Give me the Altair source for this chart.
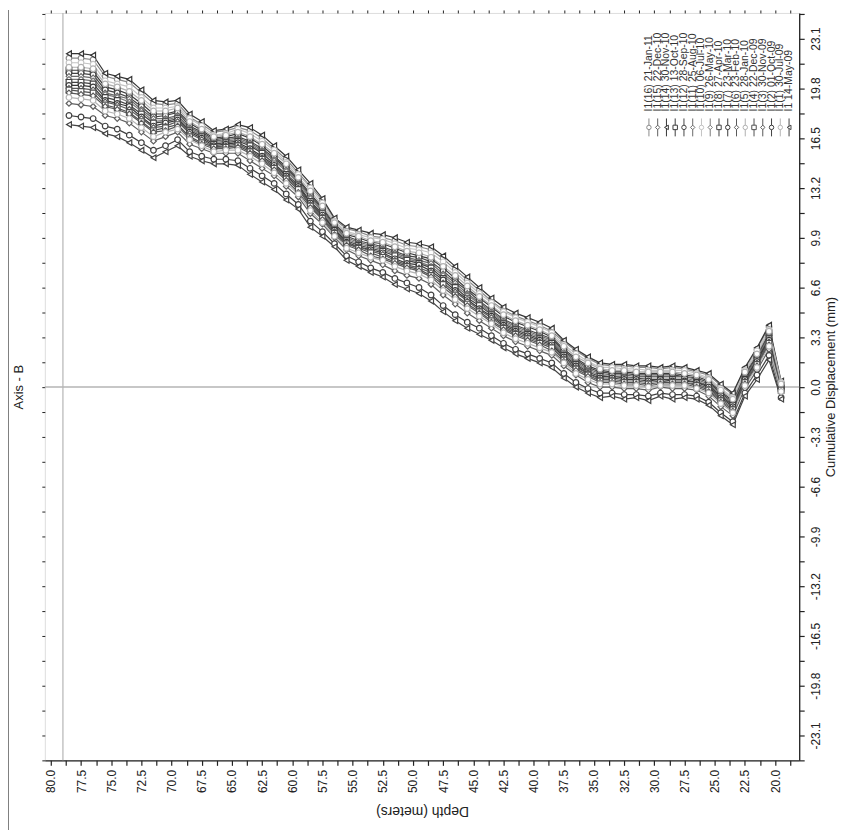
import altair as alt
import pandas as pd

# ---------------- data ----------------
depths = [78.5, 77.5, 76.5, 75.5, 74.5, 73.5, 72.5, 71.5, 70.5, 69.5,
          68.5, 67.5, 66.5, 65.5, 64.5, 63.5, 62.5, 61.5, 60.5, 59.5,
          58.5, 57.5, 56.5, 55.5, 54.5, 53.5, 52.5, 51.5, 50.5, 49.5,
          48.5, 47.5, 46.5, 45.5, 44.5, 43.5, 42.5, 41.5, 40.5, 39.5,
          38.5, 37.5, 36.5, 35.5, 34.5, 33.5, 32.5, 31.5, 30.5, 29.5,
          28.5, 27.5, 26.5, 25.5, 24.5, 23.5, 22.5, 21.5, 20.5, 19.5]

series_names = ["I1(16) 21-Jan-11", "I1(15) 22-Dec-10", "I1(14) 30-Nov-10",
                "I1(13) 13-Oct-10", "I1(12) 28-Sep-10", "I1(11) 25-Aug-10",
                "I1(10) 06-Jul-10", "I1(9) 26-May-10", "I1(8) 27-Apr-10",
                "I1(7) 23-Mar-10", "I1(6) 23-Feb-10", "I1(5) 28-Jan-10",
                "I1(4) 22-Dec-09", "I1(3) 30-Nov-09", "I1(2) 01-Oct-09",
                "I1(1) 30-Jul-09", "I1 14-May-09"]

series_colors = ["#8a8a8a", "#606060", "#353535", "#3c3c3c", "#454545", "#6a6a6a",
                 "#c4c4c4", "#7a7a7a", "#424242", "#383838", "#5a5a5a", "#b0b0b0",
                 "#505050", "#585858", "#404040", "#b4b4b4", "#444444"]

series_shapes = ["circle", "diamond", "triangle-left", "square", "circle", "diamond",
                 "circle", "diamond", "square", "circle", "diamond", "circle",
                 "square", "diamond", "circle", "circle", "triangle-left"]

disp = {
    "I1(14) 30-Nov-10": [22.1, 22.1, 22.0, 20.8, 20.6, 20.4, 19.7, 19.0, 18.9, 19.0,
                         18.1, 17.6, 17.0, 17.1, 17.4, 17.2, 16.7, 16.0, 15.3, 14.4,
                         13.5, 12.5, 11.2, 10.6, 10.4, 10.2, 10.1, 9.9, 9.6, 9.5,
                         9.3, 8.7, 8.0, 7.3, 6.6, 5.9, 5.3, 4.9, 4.6, 4.3,
                         3.9, 3.1, 2.5, 2.0, 1.6, 1.5, 1.5, 1.4, 1.4, 1.3,
                         1.4, 1.3, 1.1, 0.9, 0.2, -0.4, 1.3, 2.6, 4.1, 0.4],
    "I1(16) 21-Jan-11": [21.8, 21.8, 21.7, 20.6, 20.4, 20.2, 19.5, 18.8, 18.7, 18.8,
                         17.9, 17.4, 16.9, 17.0, 17.2, 17.0, 16.5, 15.8, 15.1, 14.2,
                         13.3, 12.4, 11.1, 10.5, 10.3, 10.0, 9.9, 9.7, 9.4, 9.3,
                         9.1, 8.5, 7.8, 7.1, 6.4, 5.7, 5.1, 4.7, 4.4, 4.1,
                         3.7, 3.0, 2.4, 1.9, 1.5, 1.4, 1.4, 1.3, 1.3, 1.2,
                         1.3, 1.2, 1.0, 0.8, 0.1, -0.5, 1.2, 2.5, 4.0, 0.3],
    "I1(10) 06-Jul-10": [21.5, 21.5, 21.4, 20.3, 20.1, 19.9, 19.2, 18.5, 18.5, 18.6,
                         17.8, 17.3, 16.7, 16.8, 17.1, 16.8, 16.3, 15.7, 14.9, 14.1,
                         13.2, 12.2, 11.0, 10.3, 10.1, 9.9, 9.8, 9.5, 9.2, 9.1,
                         8.9, 8.3, 7.6, 6.9, 6.2, 5.6, 5.0, 4.6, 4.3, 4.0,
                         3.6, 2.8, 2.2, 1.7, 1.3, 1.3, 1.2, 1.2, 1.1, 1.1,
                         1.1, 1.1, 0.9, 0.6, -0.1, -0.7, 1.1, 2.4, 3.8, 0.3],
    "I1(5) 28-Jan-10": [21.2, 21.2, 21.1, 20.1, 19.9, 19.6, 19.0, 18.3, 18.3, 18.5,
                        17.6, 17.1, 16.6, 16.7, 16.9, 16.6, 16.1, 15.5, 14.8, 13.9,
                        13.0, 12.0, 10.9, 10.2, 10.0, 9.7, 9.6, 9.3, 9.0, 8.9,
                        8.6, 8.0, 7.4, 6.7, 6.0, 5.4, 4.8, 4.4, 4.1, 3.8,
                        3.4, 2.7, 2.0, 1.6, 1.2, 1.1, 1.1, 1.0, 1.0, 1.0,
                        1.0, 0.9, 0.8, 0.5, -0.2, -0.8, 1.0, 2.2, 3.7, 0.2],
    "I1(13) 13-Oct-10": [21.0, 21.0, 20.9, 19.9, 19.7, 19.4, 18.8, 18.1, 18.1, 18.3,
                         17.5, 17.0, 16.5, 16.6, 16.8, 16.5, 16.0, 15.3, 14.6, 13.8,
                         12.8, 11.9, 10.8, 10.1, 9.9, 9.6, 9.5, 9.2, 8.9, 8.7,
                         8.5, 7.9, 7.2, 6.5, 5.9, 5.3, 4.7, 4.3, 4.0, 3.7,
                         3.3, 2.5, 1.9, 1.4, 1.1, 1.0, 1.0, 0.9, 0.9, 0.9,
                         0.9, 0.8, 0.7, 0.4, -0.3, -0.9, 0.9, 2.1, 3.6, 0.1],
    "I1(12) 28-Sep-10": [20.8, 20.8, 20.7, 19.7, 19.5, 19.2, 18.6, 17.9, 18.0, 18.2,
                         17.3, 16.9, 16.4, 16.5, 16.6, 16.3, 15.8, 15.2, 14.5, 13.7,
                         12.7, 11.8, 10.7, 10.0, 9.7, 9.5, 9.3, 9.0, 8.7, 8.6,
                         8.3, 7.7, 7.0, 6.4, 5.7, 5.1, 4.5, 4.1, 3.8, 3.5,
                         3.2, 2.4, 1.8, 1.3, 1.0, 0.9, 0.9, 0.8, 0.8, 0.8,
                         0.8, 0.7, 0.6, 0.3, -0.4, -1.0, 0.8, 2.0, 3.5, 0.1],
    "I1(11) 25-Aug-10": [20.6, 20.6, 20.5, 19.5, 19.3, 19.1, 18.4, 17.8, 17.8, 18.0,
                         17.2, 16.8, 16.3, 16.4, 16.5, 16.2, 15.7, 15.1, 14.4, 13.6,
                         12.6, 11.7, 10.6, 9.9, 9.6, 9.4, 9.2, 8.9, 8.6, 8.4,
                         8.2, 7.5, 6.9, 6.2, 5.6, 5.0, 4.4, 4.0, 3.7, 3.4,
                         3.1, 2.3, 1.7, 1.2, 0.9, 0.8, 0.8, 0.7, 0.7, 0.7,
                         0.7, 0.7, 0.5, 0.2, -0.5, -1.1, 0.7, 1.9, 3.4, 0.0],
    "I1(9) 26-May-10": [20.4, 20.4, 20.3, 19.4, 19.2, 18.9, 18.3, 17.6, 17.7, 17.9,
                        17.1, 16.7, 16.2, 16.3, 16.4, 16.1, 15.6, 15.0, 14.3, 13.5,
                        12.5, 11.6, 10.5, 9.8, 9.5, 9.3, 9.1, 8.8, 8.5, 8.3,
                        8.0, 7.4, 6.7, 6.1, 5.5, 4.9, 4.3, 3.9, 3.6, 3.3,
                        3.0, 2.2, 1.6, 1.1, 0.8, 0.7, 0.7, 0.6, 0.6, 0.6,
                        0.6, 0.6, 0.4, 0.1, -0.6, -1.2, 0.6, 1.8, 3.3, 0.0],
    "I1(8) 27-Apr-10": [20.2, 20.2, 20.1, 19.2, 19.0, 18.7, 18.1, 17.5, 17.6, 17.8,
                        17.0, 16.6, 16.1, 16.2, 16.3, 16.0, 15.5, 14.8, 14.1, 13.4,
                        12.3, 11.5, 10.4, 9.7, 9.4, 9.2, 9.0, 8.7, 8.4, 8.2,
                        7.9, 7.2, 6.6, 5.9, 5.4, 4.8, 4.2, 3.8, 3.5, 3.2,
                        2.9, 2.1, 1.5, 1.0, 0.7, 0.7, 0.6, 0.6, 0.5, 0.5,
                        0.5, 0.5, 0.3, 0.1, -0.6, -1.2, 0.5, 1.8, 3.2, -0.1],
    "I1(7) 23-Mar-10": [20.0, 20.0, 19.9, 19.0, 18.8, 18.6, 17.9, 17.3, 17.5, 17.7,
                        16.9, 16.5, 16.0, 16.1, 16.2, 15.8, 15.3, 14.7, 14.0, 13.3,
                        12.2, 11.4, 10.4, 9.6, 9.3, 9.1, 8.9, 8.5, 8.2, 8.1,
                        7.7, 7.1, 6.4, 5.8, 5.2, 4.7, 4.1, 3.7, 3.4, 3.1,
                        2.8, 2.0, 1.4, 0.9, 0.6, 0.6, 0.5, 0.5, 0.4, 0.5,
                        0.4, 0.4, 0.3, 0.0, -0.7, -1.3, 0.5, 1.7, 3.1, -0.1],
    "I1(6) 23-Feb-10": [19.8, 19.8, 19.7, 18.9, 18.7, 18.4, 17.8, 17.2, 17.3, 17.6,
                        16.8, 16.4, 15.9, 16.0, 16.1, 15.7, 15.2, 14.6, 13.9, 13.2,
                        12.1, 11.3, 10.3, 9.5, 9.3, 9.0, 8.8, 8.4, 8.1, 7.9,
                        7.6, 6.9, 6.3, 5.7, 5.1, 4.6, 4.0, 3.6, 3.3, 3.0,
                        2.7, 1.9, 1.3, 0.9, 0.5, 0.5, 0.4, 0.4, 0.3, 0.4,
                        0.3, 0.3, 0.2, -0.1, -0.8, -1.4, 0.4, 1.6, 3.0, -0.2],
    "I1(4) 22-Dec-09": [19.7, 19.6, 19.5, 18.7, 18.5, 18.2, 17.6, 17.0, 17.2, 17.4,
                        16.6, 16.2, 15.9, 15.9, 16.0, 15.6, 15.1, 14.5, 13.8, 13.1,
                        12.0, 11.2, 10.2, 9.5, 9.2, 8.9, 8.6, 8.3, 8.0, 7.8,
                        7.4, 6.8, 6.1, 5.5, 5.0, 4.4, 3.9, 3.5, 3.2, 2.9,
                        2.6, 1.8, 1.2, 0.8, 0.4, 0.4, 0.3, 0.3, 0.2, 0.3,
                        0.3, 0.3, 0.1, -0.2, -0.9, -1.5, 0.3, 1.5, 2.9, -0.2],
    "I1(3) 30-Nov-09": [19.5, 19.4, 19.3, 18.6, 18.4, 18.1, 17.5, 16.9, 17.0, 17.3,
                        16.5, 16.1, 15.8, 15.8, 15.9, 15.5, 15.0, 14.4, 13.7, 12.9,
                        11.9, 11.1, 10.1, 9.4, 9.1, 8.7, 8.5, 8.2, 7.9, 7.7,
                        7.3, 6.6, 6.0, 5.4, 4.9, 4.3, 3.8, 3.4, 3.1, 2.8,
                        2.4, 1.7, 1.1, 0.7, 0.3, 0.3, 0.2, 0.2, 0.1, 0.2,
                        0.2, 0.2, 0.0, -0.3, -1.0, -1.6, 0.2, 1.4, 2.8, -0.3],
    "I1(1) 30-Jul-09": [19.2, 19.1, 19.0, 18.3, 18.1, 17.8, 17.2, 16.6, 16.9, 17.1,
                        16.4, 16.0, 15.6, 15.7, 15.7, 15.3, 14.8, 14.2, 13.5, 12.8,
                        11.7, 10.9, 10.0, 9.2, 8.9, 8.6, 8.4, 8.0, 7.7, 7.5,
                        7.1, 6.4, 5.8, 5.2, 4.7, 4.2, 3.6, 3.2, 2.9, 2.6,
                        2.3, 1.6, 0.9, 0.5, 0.2, 0.2, 0.1, 0.1, 0.0, 0.1,
                        0.1, 0.1, -0.1, -0.4, -1.1, -1.7, 0.1, 1.3, 2.7, -0.3],
    "I1(15) 22-Dec-10": [18.8, 18.7, 18.6, 18.0, 17.8, 17.5, 16.9, 16.3, 16.6, 16.9,
                         16.1, 15.8, 15.5, 15.5, 15.5, 15.0, 14.5, 14.0, 13.3, 12.6,
                         11.5, 10.8, 9.9, 9.1, 8.7, 8.4, 8.1, 7.7, 7.4, 7.2,
                         6.8, 6.1, 5.5, 4.9, 4.4, 3.9, 3.4, 3.0, 2.7, 2.4,
                         2.1, 1.4, 0.8, 0.3, 0.0, 0.0, -0.1, -0.1, -0.2, 0.0,
                         -0.1, -0.1, -0.2, -0.6, -1.3, -1.9, -0.1, 1.1, 2.5, -0.4],
    "I1(2) 01-Oct-09": [18.0, 17.9, 17.8, 17.3, 17.1, 16.7, 16.2, 15.7, 16.0, 16.4,
                        15.6, 15.3, 15.1, 15.1, 15.0, 14.5, 14.0, 13.5, 12.8, 12.1,
                        11.0, 10.3, 9.5, 8.7, 8.3, 7.9, 7.6, 7.2, 6.9, 6.6,
                        6.1, 5.4, 4.8, 4.3, 3.9, 3.4, 2.9, 2.5, 2.2, 1.9,
                        1.6, 0.9, 0.3, -0.1, -0.4, -0.4, -0.5, -0.5, -0.6, -0.4,
                        -0.5, -0.5, -0.6, -1.0, -1.7, -2.3, -0.4, 0.8, 2.1, -0.7],
    "I1 14-May-09": [17.4, 17.3, 17.2, 16.8, 16.6, 16.2, 15.7, 15.2, 15.6, 16.0,
                     15.3, 15.0, 14.8, 14.8, 14.7, 14.1, 13.6, 13.1, 12.4, 11.8,
                     10.6, 10.0, 9.3, 8.4, 8.0, 7.6, 7.3, 6.8, 6.5, 6.2,
                     5.7, 5.0, 4.4, 3.9, 3.5, 3.1, 2.6, 2.2, 1.9, 1.6,
                     1.3, 0.6, 0.0, -0.4, -0.7, -0.6, -0.8, -0.7, -0.9, -0.6,
                     -0.8, -0.7, -0.8, -1.2, -1.9, -2.5, -0.6, 0.5, 1.8, -0.8],
}

x_major = [80.0, 77.5, 75.0, 72.5, 70.0, 67.5, 65.0, 62.5, 60.0, 57.5, 55.0, 52.5, 50.0,
           47.5, 45.0, 42.5, 40.0, 37.5, 35.0, 32.5, 30.0, 27.5, 25.0, 22.5, 20.0]
x_minor = [78.75, 76.25, 73.75, 71.25, 68.75, 66.25, 63.75, 61.25, 58.75, 56.25, 53.75,
           51.25, 48.75, 46.25, 43.75, 41.25, 38.75, 36.25, 33.75, 31.25, 28.75, 26.25,
           23.75, 21.25, 18.75]
y_major = [-23.1, -19.8, -16.5, -13.2, -9.9, -6.6, -3.3, 0.0, 3.3, 6.6, 9.9, 13.2,
           16.5, 19.8, 23.1]
y_minor = [-24.75, -21.45, -18.15, -14.85, -11.55, -8.25, -4.95, -1.65, 1.65, 4.95,
           8.25, 11.55, 14.85, 18.15, 21.45, 24.75]

zero_line = [0.0]
casing_bottom = [79.0]
chart_title = ["Axis - B"]

for k, v in disp.items():
    assert len(v) == len(depths), (k, len(v))

# ---------------- frames ----------------
rows = []
for name in series_names:
    for d, v in zip(depths, disp[name]):
        rows.append({"series": name, "depth": d, "disp": v})
df = pd.DataFrame(rows)

legend_df = pd.DataFrame({"name": series_names, "color": series_colors,
                          "shape": series_shapes, "i": list(range(len(series_names)))})

FONT = "Liberation Sans"
xscale = alt.Scale(domain=[18.0, 80.5], reverse=True, nice=False, zero=False)
yscale = alt.Scale(domain=[-24.75, 24.8], nice=False, zero=False)
cscale = alt.Scale(domain=series_names, range=series_colors)
sscale = alt.Scale(domain=series_names, range=series_shapes)


def lab_expr(major):
    arr = "[" + ",".join(repr(float(m)) for m in major) + "]"
    return ("indexof(" + arr + ", datum.value) >= 0 ? "
            "(datum.value < 0 ? '-' : '') + format(abs(datum.value), '.1f') : ''")


x_axis = alt.Axis(orient="bottom", values=x_major + x_minor, labelExpr=lab_expr(x_major),
                  labelAngle=270, labelAlign="right", labelBaseline="middle",
                  labelPadding=4, labelOverlap=False, labelFontSize=12, labelFont=FONT,
                  labelColor="#222", tickSize=5, tickColor="#222", tickWidth=1.2,
                  domainColor="#222", domainWidth=1.3, grid=False,
                  titleAngle=180, titleBaseline="bottom", titlePadding=11,
                  titleFontSize=14, titleFont=FONT, titleFontWeight="normal",
                  titleColor="#222")

y_axis = alt.Axis(orient="right", values=y_major + y_minor, labelExpr=lab_expr(y_major),
                  labelAngle=270, labelAlign="center", labelBaseline="top",
                  labelPadding=6, labelOverlap=False, labelFontSize=12, labelFont=FONT,
                  labelColor="#222", tickSize=5, tickColor="#222", tickWidth=1.2,
                  domainColor="#222", domainWidth=1.3, grid=False,
                  titleAngle=270, titleBaseline="top", titlePadding=3,
                  titleFontSize=13, titleFont=FONT, titleFontWeight="normal",
                  titleColor="#222")

x_mirror = alt.Axis(orient="top", values=x_major + x_minor, labels=False, title=None,
                    tickSize=3, tickColor="#222", domain=False, grid=False)
y_mirror = alt.Axis(orient="left", values=y_major + y_minor, labels=False, title=None,
                    tickSize=3, tickColor="#222", domain=False, grid=False)

base = alt.Chart(df)

lines = base.mark_line(strokeWidth=1.2).encode(
    x=alt.X("depth:Q", scale=xscale, axis=x_axis, title="Depth (meters)"),
    y=alt.Y("disp:Q", scale=yscale, axis=y_axis, title="Cumulative Displacement (mm)"),
    color=alt.Color("series:N", scale=cscale, legend=None),
    detail="series:N",
)

points = base.mark_point(filled=True, fill="white", size=32, strokeWidth=1.2,
                         opacity=1).encode(
    x=alt.X("depth:Q", scale=xscale, axis=None),
    y=alt.Y("disp:Q", scale=yscale, axis=None),
    shape=alt.Shape("series:N", scale=sscale, legend=None),
    stroke=alt.Stroke("series:N", scale=cscale, legend=None),
)

zero_rule = alt.Chart(pd.DataFrame({"v": zero_line})).mark_rule(
    color="#b5b5b5", strokeWidth=1.5).encode(
    y=alt.Y("v:Q", scale=yscale, axis=y_mirror))

casing_rule = alt.Chart(pd.DataFrame({"d": casing_bottom})).mark_rule(
    color="#b5b5b5", strokeWidth=1.2).encode(
    x=alt.X("d:Q", scale=xscale, axis=x_mirror))

leg_base = alt.Chart(legend_df).transform_calculate(lx="607 + datum.i * 8.8")
leg_x = alt.X("lx:Q", scale=None, axis=None)

leg_line = leg_base.mark_rule(strokeWidth=1).encode(
    x=leg_x, y=alt.value(106), y2=alt.value(124),
    color=alt.Color("color:N", scale=None, legend=None))
leg_pt = leg_base.mark_point(filled=True, fill="white", size=20, strokeWidth=1,
                             opacity=1).encode(
    x=leg_x, y=alt.value(115),
    shape=alt.Shape("shape:N", scale=None, legend=None),
    stroke=alt.Stroke("color:N", scale=None, legend=None))
leg_text = leg_base.mark_text(angle=270, align="left", baseline="middle",
                              fontSize=10.5, font=FONT, color="#333").encode(
    x=leg_x, y=alt.value(99), text="name:N")

title_mark = alt.Chart(pd.DataFrame({"t": chart_title})).mark_text(
    angle=270, align="center", baseline="middle", fontSize=13, font=FONT,
    color="#222", clip=False).encode(
    x=alt.value(-26), y=alt.value(376), text="t:N")

page_border = alt.Chart(pd.DataFrame({"a": [0]})).mark_rule(
    color="#555", strokeWidth=1.5, clip=False).encode(
    x=alt.value(-37), y=alt.value(-3), y2=alt.value(821))

chart = alt.layer(
    zero_rule, casing_rule, lines, points, leg_line, leg_pt, leg_text,
    title_mark, page_border
).resolve_axis(x="independent", y="independent").properties(
    width=758, height=751,
    padding={"left": 37, "top": 3, "right": 42, "bottom": 70},
    autosize=alt.AutoSizeParams(type="none"),
).configure_view(stroke="#222", strokeWidth=1.3).configure(background="white")

chart.save("out.html", embed_options={"renderer": "svg", "actions": False})
